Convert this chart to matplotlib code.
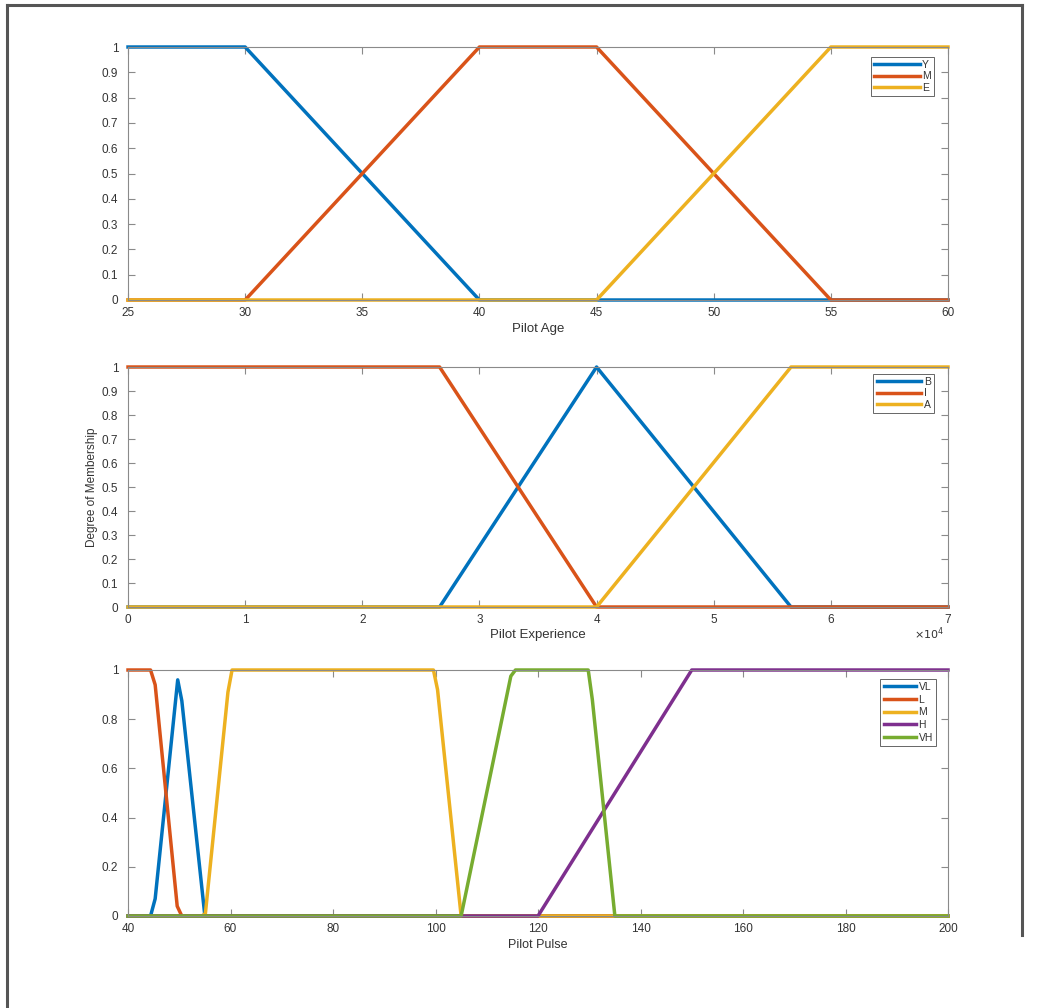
import matplotlib
matplotlib.use("Agg")
import matplotlib.pyplot as plt
from matplotlib.lines import Line2D

plt.rcParams['font.family'] = ['Liberation Sans', 'DejaVu Sans']

# ---------------- data ----------------
age_labels = ["Y", "M", "E"]
age_Y_x = [25, 30, 40, 60]
age_Y_y = [1, 1, 0, 0]
age_M_x = [25, 30, 40, 45, 55, 60]
age_M_y = [0, 0, 1, 1, 0, 0]
age_E_x = [25, 45, 55, 60]
age_E_y = [0, 0, 1, 1]

exp_labels = ["B", "I", "A"]
exp_B_x = [0, 26600, 40000, 56600, 70000]
exp_B_y = [0, 0, 1, 0, 0]
exp_I_x = [0, 26600, 40000, 70000]
exp_I_y = [1, 1, 0, 0]
exp_A_x = [0, 40000, 56600, 70000]
exp_A_y = [0, 0, 1, 1]

pulse_labels = ["VL", "L", "M", "H", "VH"]
pulse_VL_x = [40, 44.4, 45.3, 49.7, 50.5, 55.0, 200]
pulse_VL_y = [0, 0, 0.07, 0.96, 0.875, 0, 0]
pulse_L_x = [40, 44.4, 45.3, 49.6, 50.5, 200]
pulse_L_y = [1, 1, 0.94, 0.04, 0, 0]
pulse_M_x = [40, 54.4, 55.1, 59.5, 60.3, 99.6, 100.4, 105, 200]
pulse_M_y = [0, 0, 0.01, 0.91, 1, 1, 0.92, 0, 0]
pulse_H_x = [40, 120, 150, 200]
pulse_H_y = [0, 0, 1, 1]
pulse_VH_x = [40, 105, 114.7, 115.6, 129.8, 130.6, 135, 200]
pulse_VH_y = [0, 0, 0.975, 1, 1, 0.88, 0, 0]

age_xticks = [25, 30, 35, 40, 45, 50, 55, 60]
exp_xticks = [0, 10000, 20000, 30000, 40000, 50000, 60000, 70000]
exp_xticklabels = ["0", "1", "2", "3", "4", "5", "6", "7"]
pulse_xticks = [40, 60, 80, 100, 120, 140, 160, 180, 200]
yticks_fine = [0, 0.1, 0.2, 0.3, 0.4, 0.5, 0.6, 0.7, 0.8, 0.9, 1]
yticks_coarse = [0, 0.2, 0.4, 0.6, 0.8, 1]
ytick_fine_labels = ["0", "0.1", "0.2", "0.3", "0.4", "0.5", "0.6", "0.7", "0.8", "0.9", "1"]
ytick_coarse_labels = ["0", "0.2", "0.4", "0.6", "0.8", "1"]

colors = ["#0072BD", "#D95319", "#EDB120", "#7E2F8E", "#77AC30"]

W, H = 1041, 1008
fig = plt.figure(figsize=(W / 100, H / 100), dpi=100)

def pos(l, r, t, b):
    return [l / W, 1 - b / H, (r - l) / W, (b - t) / H]

box1 = (128, 948, 47, 300)
box2 = (128, 948, 367, 607)
box3 = (128, 948, 670, 916)
ax1 = fig.add_axes(pos(*box1))
ax2 = fig.add_axes(pos(*box2))
ax3 = fig.add_axes(pos(*box3))

AX_COL = "#8a8a8a"
TXT_COL = "#333333"
LW = 2.5

def style(ax):
    for s in ax.spines.values():
        s.set_color(AX_COL)
        s.set_linewidth(0.8)
    ax.tick_params(direction="in", length=5, width=0.8, color=AX_COL,
                   labelcolor=TXT_COL, labelsize=8.5, top=True, right=True)
    ax.tick_params(axis="x", pad=5)
    ax.tick_params(axis="y", pad=7)

def add_legend(ax, right_px, top_px, ax_box, hl, ls):
    l, r, t, b = ax_box
    bx = (right_px - l) / (r - l)
    by = (b - top_px) / (b - t)
    leg = ax.legend(loc="upper right", bbox_to_anchor=(bx, by), fontsize=7.5,
                    handlelength=hl, handletextpad=0.25, borderpad=0.3,
                    labelspacing=ls, borderaxespad=0, fancybox=False, framealpha=1)
    leg.get_frame().set_edgecolor("#666666")
    leg.get_frame().set_linewidth(0.7)
    for t in leg.get_texts():
        t.set_color(TXT_COL)

# ---- top
for (x, y), c, lab in zip([(age_Y_x, age_Y_y), (age_M_x, age_M_y), (age_E_x, age_E_y)],
                          colors, age_labels):
    ax1.plot(x, y, color=c, lw=LW, label=lab, clip_on=False)
ax1.set_xlim(25, 60)
ax1.set_ylim(0, 1)
ax1.set_xticks(age_xticks)
ax1.set_yticks(yticks_fine)
ax1.set_yticklabels(ytick_fine_labels)
style(ax1)
ax1.set_xlabel("Pilot Age", fontsize=9.5, color=TXT_COL, labelpad=3)
add_legend(ax1, 934, 57, box1, 4.4, 0.12)

# ---- middle
for (x, y), c, lab in zip([(exp_B_x, exp_B_y), (exp_I_x, exp_I_y), (exp_A_x, exp_A_y)],
                          colors, exp_labels):
    ax2.plot(x, y, color=c, lw=LW, label=lab, clip_on=False)
ax2.set_xlim(0, 70000)
ax2.set_ylim(0, 1)
ax2.set_xticks(exp_xticks)
ax2.set_xticklabels(exp_xticklabels)
ax2.set_yticks(yticks_fine)
ax2.set_yticklabels(ytick_fine_labels)
style(ax2)
ax2.set_xlabel("Pilot Experience", fontsize=9.5, color=TXT_COL, labelpad=2)
ax2.set_ylabel("Degree of Membership", fontsize=8.5, color=TXT_COL, labelpad=3)
fig.text(944 / W, 1 - 634 / H, r"$\times10^{4}$", fontsize=8, color=TXT_COL,
         ha="right", va="center")
add_legend(ax2, 934, 374, box2, 4.3, 0.12)

# ---- bottom
series3 = [(pulse_VL_x, pulse_VL_y), (pulse_L_x, pulse_L_y), (pulse_M_x, pulse_M_y),
           (pulse_H_x, pulse_H_y), (pulse_VH_x, pulse_VH_y)]
for (x, y), c, lab in zip(series3, colors, pulse_labels):
    ax3.plot(x, y, color=c, lw=LW, label=lab, clip_on=False)
ax3.set_xlim(40, 200)
ax3.set_ylim(0, 1)
ax3.set_xticks(pulse_xticks)
ax3.set_yticks(yticks_coarse)
ax3.set_yticklabels(ytick_coarse_labels)
style(ax3)
ax3.set_xlabel("Pilot Pulse", fontsize=9, color=TXT_COL, labelpad=3)
add_legend(ax3, 936, 679, box3, 3.1, 0.25)

# ---- outer frame
frame_kw = dict(color="#555555", lw=2.2, transform=fig.transFigure)
fig.add_artist(Line2D([7 / W, 7 / W], [0, 1 - 5 / H], **frame_kw))
fig.add_artist(Line2D([7 / W, 1022 / W], [1 - 5 / H, 1 - 5 / H], **frame_kw))
fig.add_artist(Line2D([1022 / W, 1022 / W], [1 - 5 / H, 1 - 935 / H], **frame_kw))

fig.savefig("out.png", dpi=100)
